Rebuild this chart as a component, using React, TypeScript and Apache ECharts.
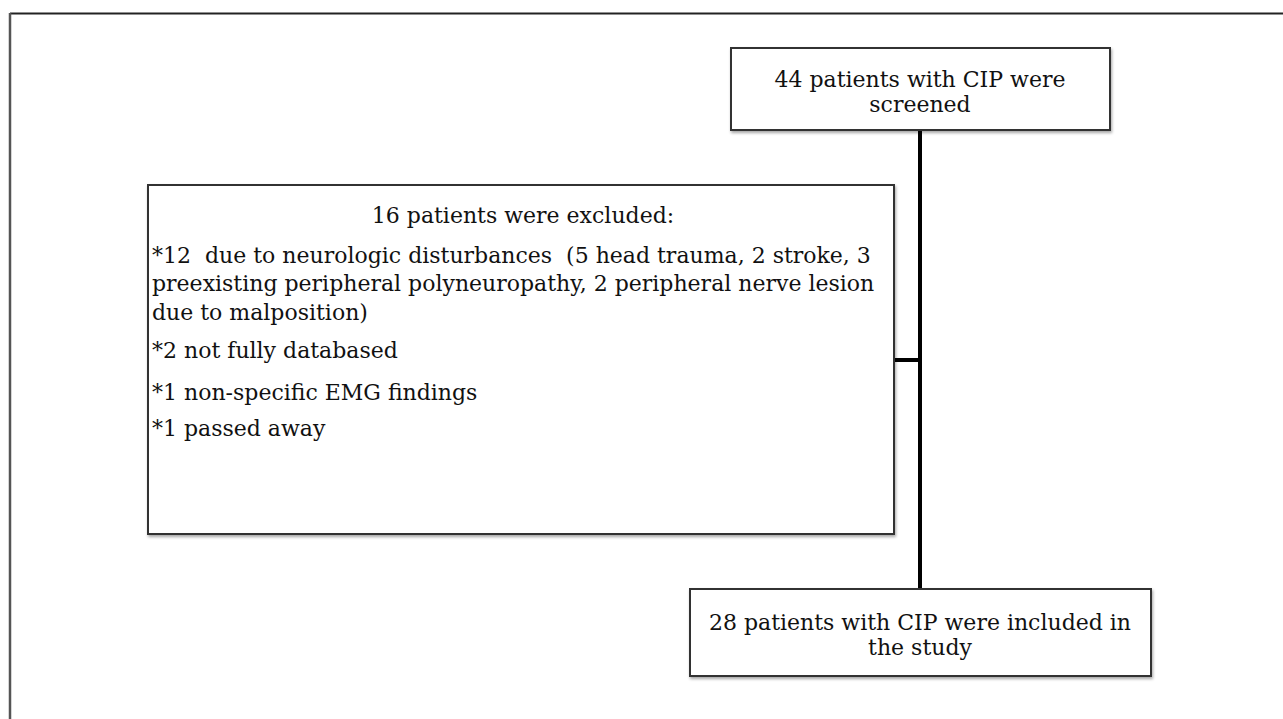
import React, { useEffect, useRef } from "react";
import * as echarts from "echarts";

const topBoxLines: string[] = ["44 patients with CIP were", "screened"];
const excludedTitle: string = "16 patients were excluded:";
const excludedLines: string[] = [
  "*12  due to neurologic disturbances  (5 head trauma, 2 stroke, 3",
  "preexisting peripheral polyneuropathy, 2 peripheral nerve lesion",
  "due to malposition)",
  "*2 not fully databased",
  "*1 non-specific EMG findings",
  "*1 passed away",
];
const excludedLineY: number[] = [255, 283, 312, 350, 392, 428];
const bottomBoxLines: string[] = ["28 patients with CIP were included in", "the study"];

const FONT_FAMILY = "'DejaVu Serif', 'Liberation Serif', serif";
const FONT_SIZE = 22;

function txt(text: string, x: number, y: number, align: string) {
  return {
    type: "text",
    style: {
      text,
      x,
      y,
      fill: "#111",
      font: `${FONT_SIZE}px ${FONT_FAMILY}`,
      fontSize: FONT_SIZE,
      fontFamily: FONT_FAMILY,
      align,
      textAlign: align,
      verticalAlign: "middle",
      textVerticalAlign: "middle",
    },
    z: 10,
  };
}

function box(x: number, y: number, w: number, h: number) {
  return {
    type: "rect",
    shape: { x, y, width: w, height: h },
    style: {
      fill: "#fff",
      stroke: "#333",
      lineWidth: 2,
      shadowBlur: 3,
      shadowOffsetX: 1,
      shadowOffsetY: 2,
      shadowColor: "rgba(0,0,0,0.35)",
    },
    z: 5,
  };
}

function line(x1: number, y1: number, x2: number, y2: number, w: number, color = "#000") {
  return {
    type: "line",
    shape: { x1, y1, x2, y2 },
    style: { stroke: color, lineWidth: w },
    z: 4,
  };
}

export default function App() {
  const ref = useRef<HTMLDivElement>(null);
  useEffect(() => {
    if (!ref.current) return;
    const chart = echarts.init(ref.current, undefined, { renderer: "svg" });
    const elements: any[] = [];
    // outer frame (top and left edges)
    elements.push(line(10, 13.5, 1283, 13.5, 2, "#222"));
    elements.push(line(10, 13, 10, 719, 2.5, "#555"));
    // connectors
    elements.push(line(920, 130, 920, 589, 4));
    elements.push(line(894, 360, 920, 360, 4));
    // top box
    elements.push(box(731, 48, 379, 82));
    topBoxLines.forEach((t, i) => elements.push(txt(t, 920, 79 + i * 25, "center")));
    // excluded box
    elements.push(box(148, 185, 746, 349));
    elements.push(txt(excludedTitle, 523, 215, "center"));
    excludedLines.forEach((t, i) => elements.push(txt(t, 152, excludedLineY[i], "left")));
    // bottom box
    elements.push(box(690, 589, 461, 87));
    bottomBoxLines.forEach((t, i) => elements.push(txt(t, 920, 622 + i * 25, "center")));

    chart.setOption({
      animation: false,
      backgroundColor: "#fff",
      graphic: { elements },
    });
    return () => chart.dispose();
  }, []);
  return (
    <div
      ref={ref}
      style={{ position: "fixed", left: 0, top: 0, width: 1283, height: 719 }}
    />
  );
}
